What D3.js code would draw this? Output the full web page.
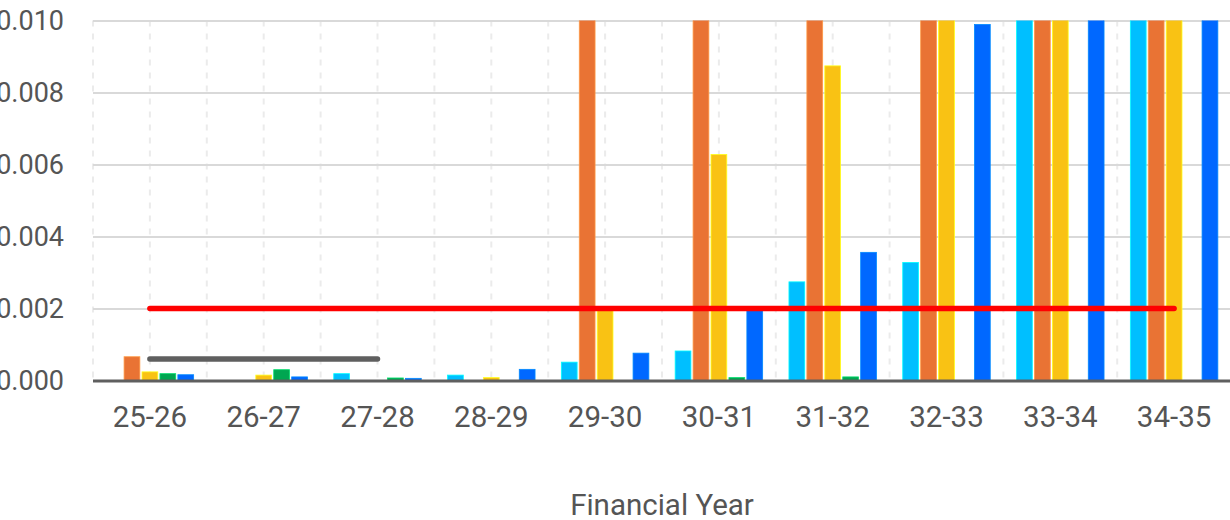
<!DOCTYPE html>
<html>
<head>
<meta charset="utf-8">
<script src="https://cdn.jsdelivr.net/npm/d3@7"></script>
<style>
  html, body { margin: 0; padding: 0; background: #fff; }
  svg { display: block; font-family: Roboto, "Noto Sans", sans-serif; }
</style>
</head>
<body>
<svg id="chart" width="1230" height="520"></svg>
<script>
// Financial years on the x axis
const categories = ["25-26", "26-27", "27-28", "28-29", "29-30", "30-31", "31-32", "32-33", "33-34", "34-35"];

// Series values per financial year (bars above 0.010 run off the top of the plot)
const seriesLightBlue = [0, 0, 0.00019, 0.00015, 0.00051, 0.00082, 0.00274, 0.00328, 0.0112, 0.0161];
const seriesOrange    = [0.00066, 0, 0, 0, 0.0131, 0.0214, 0.0322, 0.0458, 0.0613, 0.0781];
const seriesYellow    = [0.00024, 0.00015, 0, 0.00008, 0.00199, 0.00628, 0.00874, 0.0121, 0.0189, 0.0268];
const seriesGreen     = [0.00019, 0.0003, 0.00007, 0, 0, 0.00008, 0.0001, 0, 0, 0];
const seriesBlue      = [0.00016, 0.0001, 0.00006, 0.00031, 0.00076, 0.00205, 0.00356, 0.00989, 0.0136, 0.0212];

// Reference levels drawn as horizontal lines
const limitRed  = [0.002, 0.002, 0.002, 0.002, 0.002, 0.002, 0.002, 0.002, 0.002, 0.002];
const limitGrey = [0.0006, 0.0006, 0.0006, null, null, null, null, null, null, null];

// Y axis ticks
const yTicks = [0, 0.002, 0.004, 0.006, 0.008, 0.010];

const series = [
  { key: "lightblue", values: seriesLightBlue, color: "#00BFFF" },
  { key: "orange",    values: seriesOrange,    color: "#E97334" },
  { key: "yellow",    values: seriesYellow,    color: "#F9C214" },
  { key: "green",     values: seriesGreen,     color: "#00A651" },
  { key: "blue",      values: seriesBlue,      color: "#0068FF" }
];

const svg = d3.select("#chart");
const plot = { left: 93, right: 1231, top: 20.5, bottom: 380.5 };

const x = d3.scaleBand().domain(categories).range([plot.left, plot.right]).padding(0);
const xc = d => x(d) + x.bandwidth() / 2;
const groupWidth = 87.5;
const x1 = d3.scaleBand().domain(series.map(s => s.key)).range([-groupWidth / 2, groupWidth / 2]).paddingInner(0.12);
const y = d3.scaleLinear().domain([0, 0.010]).range([plot.bottom, plot.top]);

// Vertical dashed grid at band edges and centres
const vLines = [];
categories.forEach(c => { vLines.push(x(c)); vLines.push(xc(c)); });
svg.append("g").selectAll("line").data(vLines).join("line")
  .attr("x1", d => d).attr("x2", d => d)
  .attr("y1", plot.top).attr("y2", plot.bottom)
  .attr("stroke", "#ebebeb").attr("stroke-width", 2).attr("stroke-dasharray", "6,7");

// Horizontal grid lines
const yAxis = d3.axisLeft(y).tickValues(yTicks).tickFormat(d3.format(".3f"))
  .tickSize(-(plot.right - plot.left)).tickPadding(29);
const gy = svg.append("g").attr("transform", `translate(${plot.left},0)`).call(yAxis);
gy.select(".domain").remove();
gy.selectAll(".tick line").attr("stroke", "#d9d9d9").attr("stroke-width", 2);
gy.selectAll(".tick text").attr("fill", "#555").style("font-size", "27px")
  .style("font-family", "Roboto, sans-serif").attr("dy", "0.35em");

// Bars, clipped at the top of the plot
svg.append("clipPath").attr("id", "plotClip").append("rect")
  .attr("x", plot.left).attr("y", plot.top)
  .attr("width", plot.right - plot.left).attr("height", plot.bottom - plot.top);

const barData = [];
series.forEach(s => s.values.forEach((v, i) => {
  if (v > 0) barData.push({ key: s.key, color: s.color, cat: categories[i], v });
}));
svg.append("g").attr("clip-path", "url(#plotClip)")
  .selectAll("rect").data(barData).join("rect")
  .attr("x", d => xc(d.cat) + x1(d.key))
  .attr("width", x1.bandwidth())
  .attr("y", d => y(d.v))
  .attr("height", d => y(0) - y(d.v))
  .attr("fill", d => d.color)
  .attr("stroke", d => d3.color(d.color).brighter(0.8))
  .attr("stroke-width", 0.8);

// Reference lines
const line = d3.line().defined(d => d.v !== null).x(d => xc(d.cat)).y(d => y(d.v));
const drawLevel = (vals, color) => svg.append("path")
  .datum(vals.map((v, i) => ({ cat: categories[i], v })))
  .attr("d", line).attr("fill", "none").attr("stroke", color)
  .attr("stroke-width", 5.5).attr("stroke-linecap", "round").attr("stroke-linejoin", "round");
drawLevel(limitRed, "#FF0000");
drawLevel(limitGrey, "#5f5f5f");

// X axis
const xAxis = d3.axisBottom(x).tickSize(0).tickPadding(26);
const gx = svg.append("g").attr("transform", `translate(0,${plot.bottom})`).call(xAxis);
gx.select(".domain").remove();
gx.selectAll(".tick text").attr("fill", "#555").style("font-size", "29.5px")
  .style("font-family", "Roboto, sans-serif");
svg.append("line")
  .attr("x1", plot.left).attr("x2", plot.right)
  .attr("y1", plot.bottom + 0.5).attr("y2", plot.bottom + 0.5)
  .attr("stroke", "#5f5f5f").attr("stroke-width", 3);

// Axis title
svg.append("text")
  .attr("x", 662).attr("y", 515)
  .attr("text-anchor", "middle")
  .attr("fill", "#555")
  .style("font-size", "29.5px")
  .text("Financial Year");
</script>
</body>
</html>
